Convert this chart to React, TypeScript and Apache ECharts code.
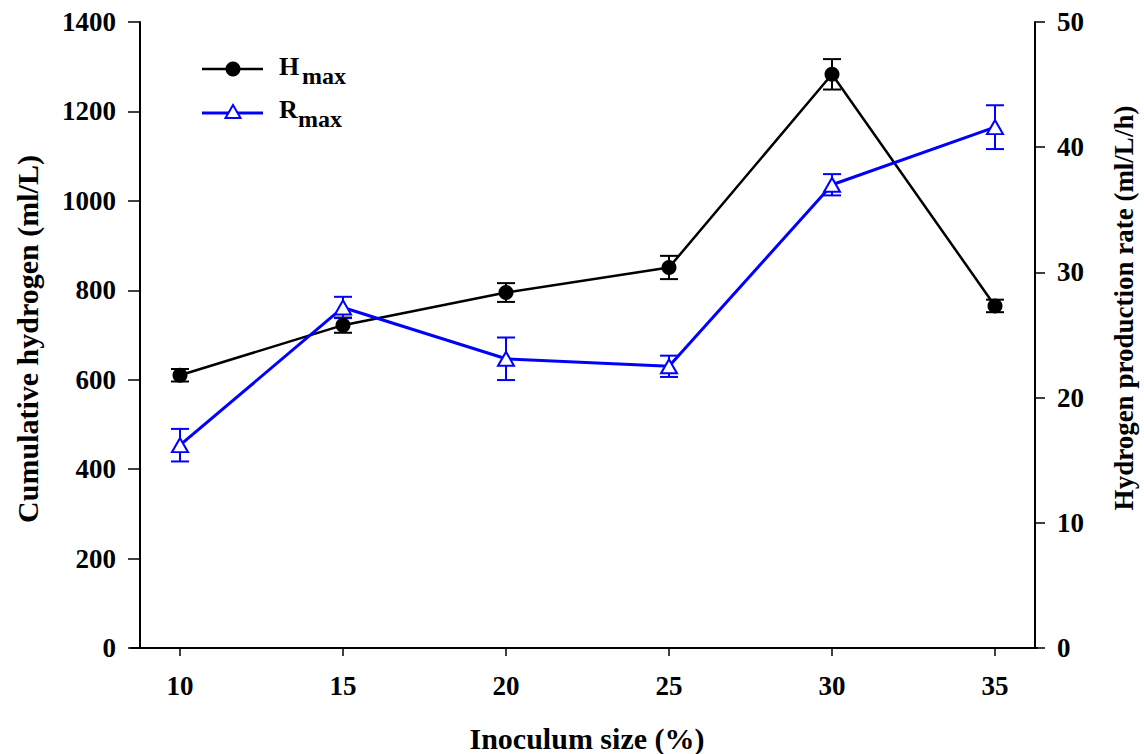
import React, { useEffect, useRef } from "react";
import * as echarts from "echarts";

const inoculum = [10, 15, 20, 25, 30, 35];
const hmax = [610, 722, 795, 851, 1283, 765];
const hmaxErr = [14, 17, 21, 26, 34, 14];
const rmax = [16.2, 27.2, 23.1, 22.5, 37.0, 41.6];
const rmaxErr = [1.3, 0.85, 1.7, 0.85, 0.85, 1.75];
const leftTicks = [0, 200, 400, 600, 800, 1000, 1200, 1400];
const rightTicks = [0, 10, 20, 30, 40, 50];

const FONT = '"Liberation Serif", "Times New Roman", serif';

export default function App() {
  const ref = useRef<HTMLDivElement>(null);
  useEffect(() => {
    if (!ref.current) return;
    const chart = echarts.init(ref.current, null, { renderer: "svg" });
    const hData = inoculum.map((x, i) => [x, hmax[i]]);
    const rData = inoculum.map((x, i) => [x, rmax[i]]);
    const hErr = inoculum.map((x, i) => [x, hmax[i], hmaxErr[i]]);
    const rErr = inoculum.map((x, i) => [x, rmax[i], rmaxErr[i]]);
    const errRender = (color: string, w: number) => (params: any, api: any) => {
      const x = api.value(0);
      const y = api.value(1);
      const e = api.value(2);
      const top = api.coord([x, y + e]);
      const bot = api.coord([x, y - e]);
      const st = { stroke: color, lineWidth: w };
      return {
        type: "group",
        children: [
          { type: "line", shape: { x1: top[0], y1: top[1], x2: bot[0], y2: bot[1] }, style: st },
          { type: "line", shape: { x1: top[0] - 9, y1: top[1], x2: top[0] + 9, y2: top[1] }, style: st },
          { type: "line", shape: { x1: bot[0] - 9, y1: bot[1], x2: bot[0] + 9, y2: bot[1] }, style: st },
        ],
      };
    };
    const tickLabel = { fontFamily: FONT, fontWeight: "bold" as const, fontSize: 27, color: "#000" };
    const titleStyle = (text: string, size: number) => ({
      text,
      fontFamily: FONT,
      fontWeight: "bold",
      fontSize: size,
      fill: "#000",
      align: "center",
      verticalAlign: "middle",
    });
    const legendText = (text: string, size: number) => ({
      text,
      fontFamily: FONT,
      fontWeight: "bold",
      fontSize: size,
      fill: "#000",
      align: "left",
      verticalAlign: "middle",
    });
    chart.setOption({
      animation: false,
      backgroundColor: "#fff",
      grid: { left: 131, right: 107, top: 22, bottom: 106, containLabel: false },
      xAxis: {
        type: "value",
        min: 8.497,
        max: 36.288,
        splitLine: { show: false },
        axisLine: { show: true, lineStyle: { color: "#000", width: 2 } },
        axisTick: { show: true, customValues: inoculum, length: 8, inside: false, lineStyle: { color: "#000", width: 1.5 } },
        axisLabel: { ...tickLabel, customValues: inoculum, margin: 24 },
      },
      yAxis: [
        {
          type: "value",
          min: 0,
          max: 1400,
          interval: 200,
          position: "left",
          offset: -9,
          splitLine: { show: false },
          axisLine: { show: true, lineStyle: { color: "#000", width: 2 } },
          axisTick: { show: true, length: 12, lineStyle: { color: "#000", width: 1.5 } },
          axisLabel: { ...tickLabel, margin: 24, formatter: (v: number) => (leftTicks.includes(v) ? String(v) : "") },
        },
        {
          type: "value",
          min: 0,
          max: 50,
          interval: 10,
          position: "right",
          offset: -2,
          splitLine: { show: false },
          axisLine: { show: true, lineStyle: { color: "#000", width: 2 } },
          axisTick: { show: true, length: 10, lineStyle: { color: "#000", width: 1.5 } },
          axisLabel: { ...tickLabel, margin: 22, formatter: (v: number) => (rightTicks.includes(v) ? String(v) : "") },
        },
      ],
      series: [
        {
          type: "custom",
          yAxisIndex: 0,
          z: 1,
          renderItem: errRender("#000", 2),
          data: hErr,
          encode: { x: 0, y: 1 },
        },
        {
          type: "custom",
          yAxisIndex: 1,
          z: 1,
          renderItem: errRender("#0000ff", 2),
          data: rErr,
          encode: { x: 0, y: 1 },
        },
        {
          name: "Hmax",
          type: "line",
          yAxisIndex: 0,
          z: 3,
          data: hData,
          symbol: "circle",
          symbolSize: 15,
          lineStyle: { color: "#000", width: 2.5 },
          itemStyle: { color: "#000", borderColor: "#000", borderWidth: 0 },
        },
        {
          name: "Rmax",
          type: "line",
          yAxisIndex: 1,
          z: 4,
          data: rData,
          symbol: "triangle",
          symbolSize: [16, 14],
          lineStyle: { color: "#0000ff", width: 3 },
          itemStyle: { color: "#fff", borderColor: "#0000ff", borderWidth: 2 },
        },
      ],
      graphic: [
        { type: "text", x: 587, y: 738, style: titleStyle("Inoculum size (%)", 30) },
        { type: "text", x: 27, y: 339, rotation: Math.PI / 2, style: titleStyle("Cumulative hydrogen (ml/L)", 30) },
        { type: "text", x: 1124, y: 308, rotation: Math.PI / 2, style: titleStyle("Hydrogen production rate (ml/L/h)", 27) },
        { type: "line", shape: { x1: 202, y1: 69, x2: 263, y2: 69 }, style: { stroke: "#000", lineWidth: 2.5 } },
        { type: "circle", shape: { cx: 233, cy: 69, r: 7.5 }, style: { fill: "#000" } },
        { type: "line", shape: { x1: 202, y1: 113, x2: 263, y2: 113 }, style: { stroke: "#0000ff", lineWidth: 3 } },
        {
          type: "polygon",
          shape: { points: [[233, 105], [240.5, 118], [225.5, 118]] },
          style: { fill: "#fff", stroke: "#0000ff", lineWidth: 2 },
        },
        { type: "text", x: 279, y: 66, style: legendText("H", 26) },
        { type: "text", x: 302, y: 76, style: legendText("max", 24) },
        { type: "text", x: 279, y: 109, style: legendText("R", 26) },
        { type: "text", x: 298, y: 119, style: legendText("max", 24) },
      ],
    });
    return () => chart.dispose();
  }, []);
  return <div ref={ref} style={{ position: "fixed", left: 0, top: 0, width: 1144, height: 754 }} />;
}
